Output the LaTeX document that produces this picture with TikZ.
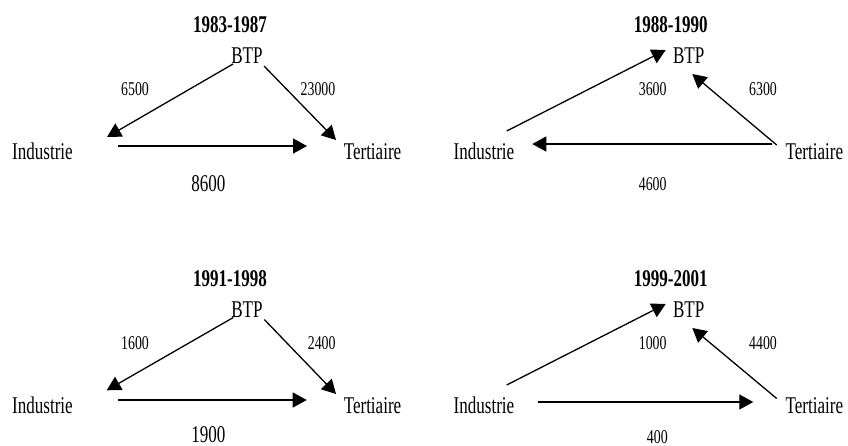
\documentclass[tikz,border=0pt]{standalone}
\usepackage{fontspec}
\setmainfont{Liberation Serif}[FakeStretch=0.71]
\usetikzlibrary{arrows.meta}
\tikzset{
  lbl/.style={inner sep=0pt, anchor=base, font=\fontsize{24}{28}\selectfont},
  ttl/.style={inner sep=0pt, anchor=base, font=\fontsize{24}{28}\selectfont\bfseries},
  num/.style={inner sep=0pt, anchor=base, font=\fontsize{19.5}{23}\selectfont},
  bignum/.style={inner sep=0pt, anchor=base, font=\fontsize{24}{28}\selectfont},
  flow/.style={-{Triangle[length=14pt,width=15pt]}, line width=1.3pt, black}
}
\begin{document}
\begin{tikzpicture}[x=1pt,y=-1pt]
\useasboundingbox (0,0) rectangle (848,445);
% ---------- Panel 1 ----------
\node[ttl] (t1) at (230,32.3) {1983-1987};
\node[lbl] (btp1) at (247,63.3) {BTP};
\node[lbl] (ind1) at (42.5,159.3) {Industrie};
\node[lbl] (ter1) at (372.5,159.3) {Tertiaire};
\node[num] (n1a) at (135,95.7) {6500};
\node[num] (n1b) at (318,95.7) {23000};
\node[bignum] (n1c) at (208.3,191.7) {8600};
\coordinate (p1a) at (233,64);   \coordinate (q1a) at (107,137);
\coordinate (p1b) at (264,66);   \coordinate (q1b) at (336,140);
\coordinate (p1c) at (118,146);  \coordinate (q1c) at (307,146);
\draw[flow] (p1a) -- (q1a);
\draw[flow] (p1b) -- (q1b);
\draw[flow] (p1c) -- (q1c);
% ---------- Panel 2 ----------
\node[ttl] (t2) at (670.7,32.3) {1988-1990};
\node[lbl] (btp2) at (688.7,63.3) {BTP};
\node[lbl] (ind2) at (484,159.3) {Industrie};
\node[lbl] (ter2) at (814.3,159.3) {Tertiaire};
\node[num] (n2a) at (652.7,95.7) {3600};
\node[num] (n2b) at (763,95.7) {6300};
\node[num] (n2c) at (652.7,190.7) {4600};
\coordinate (p2a) at (506.7,131);  \coordinate (q2a) at (665.7,50);
\coordinate (p2b) at (776.7,145);  \coordinate (q2b) at (692.3,74);
\coordinate (p2c) at (772.3,144);  \coordinate (q2c) at (532.3,144);
\draw[flow] (p2a) -- (q2a);
\draw[flow] (p2b) -- (q2b);
\draw[flow] (p2c) -- (q2c);
% ---------- Panel 3 ----------
\node[ttl] (t3) at (230,286) {1991-1998};
\node[lbl] (btp3) at (247,317) {BTP};
\node[lbl] (ind3) at (42.5,413.3) {Industrie};
\node[lbl] (ter3) at (372.5,413.3) {Tertiaire};
\node[num] (n3a) at (135,349.3) {1600};
\node[num] (n3b) at (321.7,349.3) {2400};
\node[bignum] (n3c) at (208.3,442.3) {1900};
\coordinate (p3a) at (233.3,317.5);  \coordinate (q3a) at (106.7,390.3);
\coordinate (p3b) at (264.3,319.5);  \coordinate (q3b) at (336,394);
\coordinate (p3c) at (118.3,400);    \coordinate (q3c) at (306.7,400);
\draw[flow] (p3a) -- (q3a);
\draw[flow] (p3b) -- (q3b);
\draw[flow] (p3c) -- (q3c);
% ---------- Panel 4 ----------
\node[ttl] (t4) at (670.7,286) {1999-2001};
\node[lbl] (btp4) at (688.7,317) {BTP};
\node[lbl] (ind4) at (484,413.3) {Industrie};
\node[lbl] (ter4) at (814.3,413.3) {Tertiaire};
\node[num] (n4a) at (652.7,349.3) {1000};
\node[num] (n4b) at (763,349.3) {4400};
\node[num] (n4c) at (657.3,443.3) {400};
\coordinate (p4a) at (506.7,385);  \coordinate (q4a) at (665.7,304);
\coordinate (p4b) at (776.7,398.5);  \coordinate (q4b) at (692.3,328);
\coordinate (p4c) at (538,402);    \coordinate (q4c) at (753.3,402);
\draw[flow] (p4a) -- (q4a);
\draw[flow] (p4b) -- (q4b);
\draw[flow] (p4c) -- (q4c);
\end{tikzpicture}
\end{document}
